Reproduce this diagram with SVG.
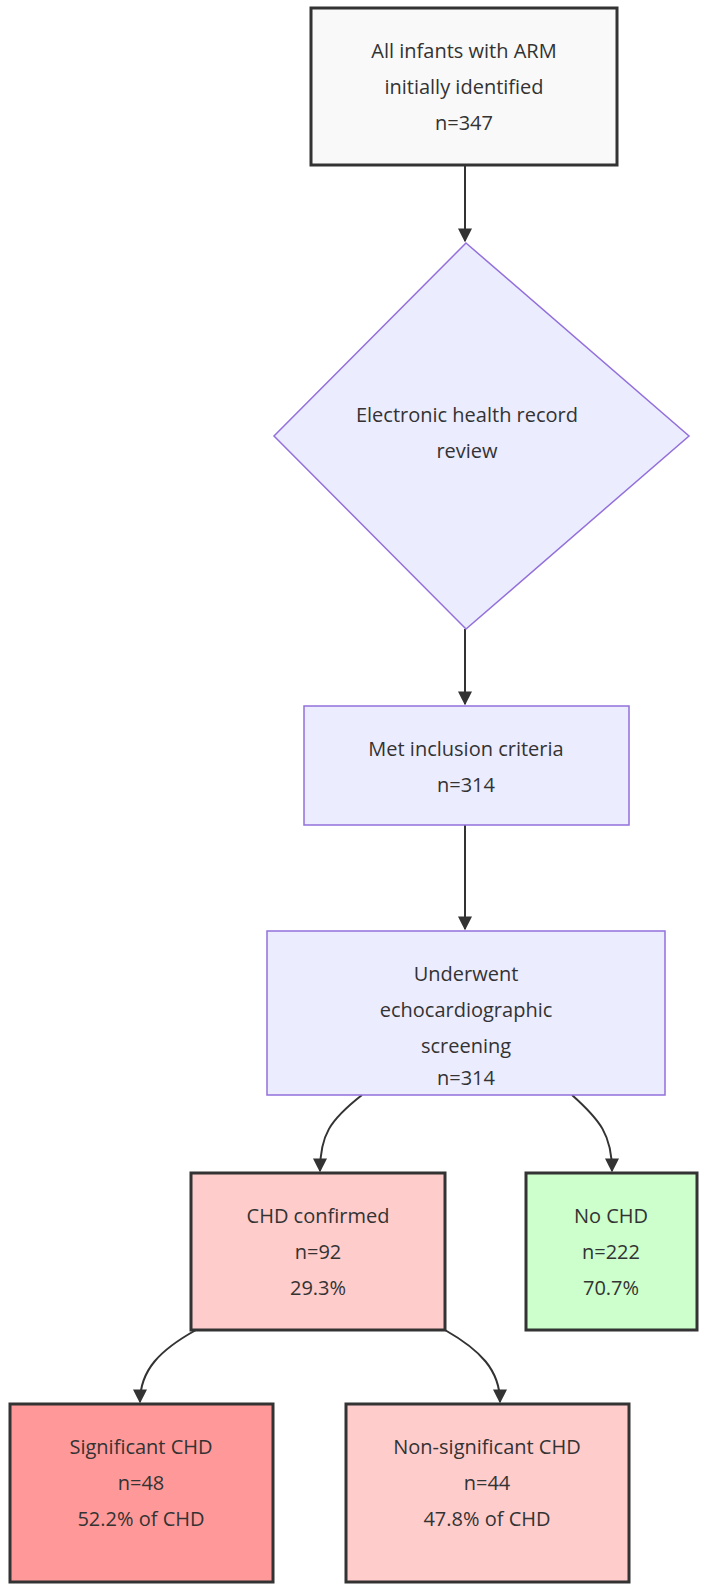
<svg xmlns="http://www.w3.org/2000/svg" width="720" height="1593" viewBox="0 0 720 1593">
<style>
text{font-family:"Open Sans","Liberation Sans",sans-serif;font-size:20px;fill:#333;text-anchor:middle}
.b{stroke:#333;stroke-width:3}
.p{fill:#ECECFF;stroke:#9370DB;stroke-width:1.5}
.c{fill:none;stroke:#333;stroke-width:2}
</style>
<defs><marker id="a" viewBox="0 0 10 10" refX="9" refY="5" markerWidth="7" markerHeight="7" orient="auto"><path d="M0,0L10,5L0,10z" fill="#333"/></marker></defs>
<rect width="720" height="1593" fill="#fff"/>
<g id="connectors">
<path class="c" d="M465,165V241" marker-end="url(#a)"/>
<path class="c" d="M465,629V704" marker-end="url(#a)"/>
<path class="c" d="M465,825V929" marker-end="url(#a)"/>
<path class="c" d="M362,1095C330,1120 320,1135 320,1171" marker-end="url(#a)"/>
<path class="c" d="M572,1095C600,1120 612,1135 612,1171" marker-end="url(#a)"/>
<path class="c" d="M196,1330C160,1350 140,1370 140,1402" marker-end="url(#a)"/>
<path class="c" d="M445,1330C480,1350 500,1370 500,1402" marker-end="url(#a)"/>
</g>
<g id="n1"><rect class="b" x="311" y="8" width="306" height="157" fill="#f9f9f9"/><text x="464" y="58">All infants with ARM</text><text x="464" y="94">initially identified</text><text x="464" y="130">n=347</text></g>
<g id="n2"><polygon class="p" points="466,243 689,436 466,629 274,436"/><text x="467" y="422">Electronic health record</text><text x="467" y="458">review</text></g>
<g id="n3"><rect class="p" x="304" y="706" width="325" height="119"/><text x="466" y="756">Met inclusion criteria</text><text x="466" y="792">n=314</text></g>
<g id="n4"><rect class="p" x="267" y="931" width="398" height="164"/><text x="466" y="981">Underwent</text><text x="466" y="1017">echocardiographic</text><text x="466" y="1053">screening</text><text x="466" y="1089" dy="-4">n=314</text></g>
<g id="n5"><rect class="b" x="191" y="1173" width="254" height="157" fill="#FFCCCC"/><text x="318" y="1223">CHD confirmed</text><text x="318" y="1259">n=92</text><text x="318" y="1295">29.3%</text></g>
<g id="n6"><rect class="b" x="526" y="1173" width="171" height="157" fill="#CCFFCC"/><text x="611" y="1223">No CHD</text><text x="611" y="1259">n=222</text><text x="611" y="1295">70.7%</text></g>
<g id="n7"><rect class="b" x="10" y="1404" width="263" height="178" fill="#FF9999"/><text x="141" y="1454">Significant CHD</text><text x="141" y="1490">n=48</text><text x="141" y="1526">52.2% of CHD</text></g>
<g id="n8"><rect class="b" x="346" y="1404" width="283" height="178" fill="#FFCCCC"/><text x="487" y="1454">Non-significant CHD</text><text x="487" y="1490">n=44</text><text x="487" y="1526">47.8% of CHD</text></g>
</svg>
